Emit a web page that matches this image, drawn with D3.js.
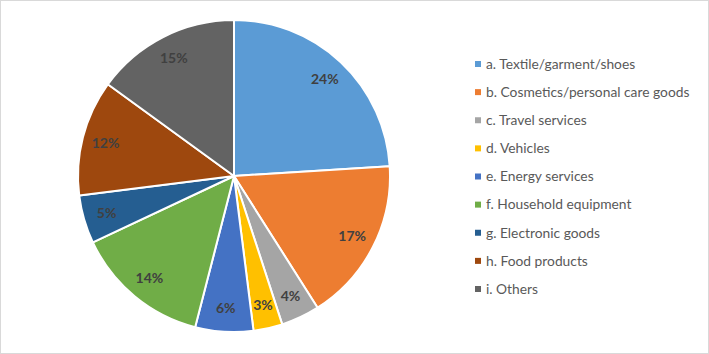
<!DOCTYPE html>
<html>
<head>
<meta charset="utf-8">
<script src="https://cdn.jsdelivr.net/npm/d3@7"></script>
<style>
  body { margin: 0; background: #fff; }
  svg { display: block; }
</style>
</head>
<body>
<div class="chart-container"></div>
<script>
// Categories & shares (percent)
const categories = [
    "a. Textile/garment/shoes",
    "b. Cosmetics/personal care goods",
    "c. Travel services",
    "d. Vehicles",
    "e. Energy services",
    "f. Household equipment",
    "g. Electronic goods",
    "h. Food products",
    "i. Others"
];
const shares = [24, 17, 4, 3, 6, 14, 5, 12, 15];
const colors = ["#5B9BD5", "#ED7D31", "#A5A5A5", "#FFC000", "#4472C4", "#70AD47", "#255E91", "#9E480E", "#636363"];

const width = 709, height = 354;
const cx = 234, cy = 176, radius = 156;

const svg = d3.select(".chart-container")
    .append("svg")
        .attr("width", width)
        .attr("height", height);

// outer frame
svg.append("rect")
    .attr("x", 0.5).attr("y", 0.5)
    .attr("width", width - 1).attr("height", height - 1)
    .attr("fill", "#fff")
    .attr("stroke", "#d9d9d9");

const data = categories.map((c, i) => ({ name: c, value: shares[i], color: colors[i] }));

const pie = d3.pie().sort(null).value(d => d.value);
const arc = d3.arc().innerRadius(0).outerRadius(radius);
const labelArc = d3.arc().innerRadius(radius * 0.85).outerRadius(radius * 0.85);

const g = svg.append("g").attr("transform", `translate(${cx}, ${cy})`);

const arcs = pie(data);

g.selectAll("path")
    .data(arcs)
    .join("path")
        .attr("d", arc)
        .attr("fill", d => d.data.color)
        .attr("stroke", "#fff")
        .attr("stroke-width", 2)
        .attr("stroke-linejoin", "round");

g.selectAll("text")
    .data(arcs)
    .join("text")
        .attr("transform", d => `translate(${labelArc.centroid(d)})`)
        .attr("text-anchor", "middle")
        .attr("dy", "0.35em")
        .attr("font-family", "Lato, 'Open Sans', sans-serif")
        .attr("font-size", 14)
        .attr("font-weight", "bold")
        .attr("fill", "#404040")
        .text(d => d.data.value + "%");

// Legend
const legendY = d3.scalePoint().domain(categories).range([64, 289]);

const legend = svg.append("g");
const items = legend.selectAll("g")
    .data(data)
    .join("g")
        .attr("transform", d => `translate(475, ${legendY(d.name)})`);

items.append("rect")
    .attr("x", 0).attr("y", -3)
    .attr("width", 6).attr("height", 6)
    .attr("fill", d => d.color);

items.append("text")
    .attr("x", 11)
    .attr("dy", "0.35em")
    .attr("font-family", "Lato, 'Open Sans', sans-serif")
    .attr("font-size", 13.8)
    .attr("fill", "#595959")
    .text(d => d.name);
</script>
</body>
</html>
